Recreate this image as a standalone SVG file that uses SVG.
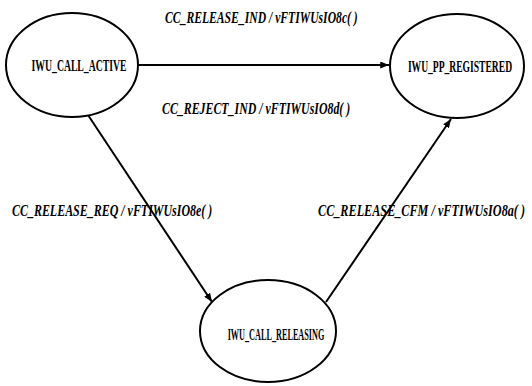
<svg xmlns="http://www.w3.org/2000/svg" width="532" height="386" viewBox="0 0 532 386">
  <style>
    .state { fill: #ffffff; stroke: #000000; stroke-width: 2; }
    .name { font-family: "Liberation Serif", "Times New Roman", serif; font-size: 16px; font-weight: bold; fill: #000000; text-anchor: middle; }
    .edge { fill: none; stroke: #000000; stroke-width: 2; }
    .event { font-family: "Liberation Serif", "Times New Roman", serif; font-size: 16px; font-style: italic; font-weight: bold; fill: #000000; }
  </style>
  <defs>
    <marker id="head" viewBox="0 0 10 8" refX="10" refY="4" markerWidth="9" markerHeight="7" markerUnits="userSpaceOnUse" orient="auto">
      <path d="M0,0 L10,4 L0,8 Z" fill="#000000"/>
    </marker>
  </defs>
  <rect width="532" height="386" fill="#ffffff"/>

  <!-- transitions; labels are set in a horizontally condensed face -->
  <g id="connectors">
    <line class="edge" x1="137" y1="65" x2="389" y2="65" marker-end="url(#head)"/>
    <line class="edge" x1="88" y1="115" x2="212" y2="302" marker-end="url(#head)"/>
    <line class="edge" x1="326" y1="302" x2="451" y2="119" marker-end="url(#head)"/>
    <g transform="scale(0.75,1)">
      <text class="event" x="220" y="23" textLength="257" lengthAdjust="spacingAndGlyphs">CC_RELEASE_IND / vFTIWUsIO8c( )</text>
      <text class="event" x="216" y="114" textLength="251" lengthAdjust="spacingAndGlyphs">CC_REJECT_IND / vFTIWUsIO8d( )</text>
      <text class="event" x="16" y="216" textLength="267" lengthAdjust="spacingAndGlyphs">CC_RELEASE_REQ / vFTIWUsIO8e( )</text>
      <text class="event" x="424" y="216" textLength="276" lengthAdjust="spacingAndGlyphs">CC_RELEASE_CFM / vFTIWUsIO8a( )</text>
    </g>
  </g>

  <!-- states -->
  <g id="iwu-call-active">
    <ellipse class="state" cx="72" cy="65" rx="66" ry="52"/>
    <text class="name" transform="scale(0.62,1)" x="127.4" y="71" textLength="153" lengthAdjust="spacingAndGlyphs">IWU_CALL_ACTIVE</text>
  </g>
  <g id="iwu-pp-registered">
    <ellipse class="state" cx="457" cy="66" rx="67" ry="52"/>
    <text class="name" transform="scale(0.62,1)" x="741.9" y="72" textLength="168" lengthAdjust="spacingAndGlyphs">IWU_PP_REGISTERED</text>
  </g>
  <g id="iwu-call-releasing">
    <ellipse class="state" cx="268" cy="331" rx="68" ry="51"/>
    <text class="name" transform="scale(0.62,1)" x="445.2" y="340" textLength="156" lengthAdjust="spacingAndGlyphs">IWU_CALL_RELEASING</text>
  </g>
</svg>
